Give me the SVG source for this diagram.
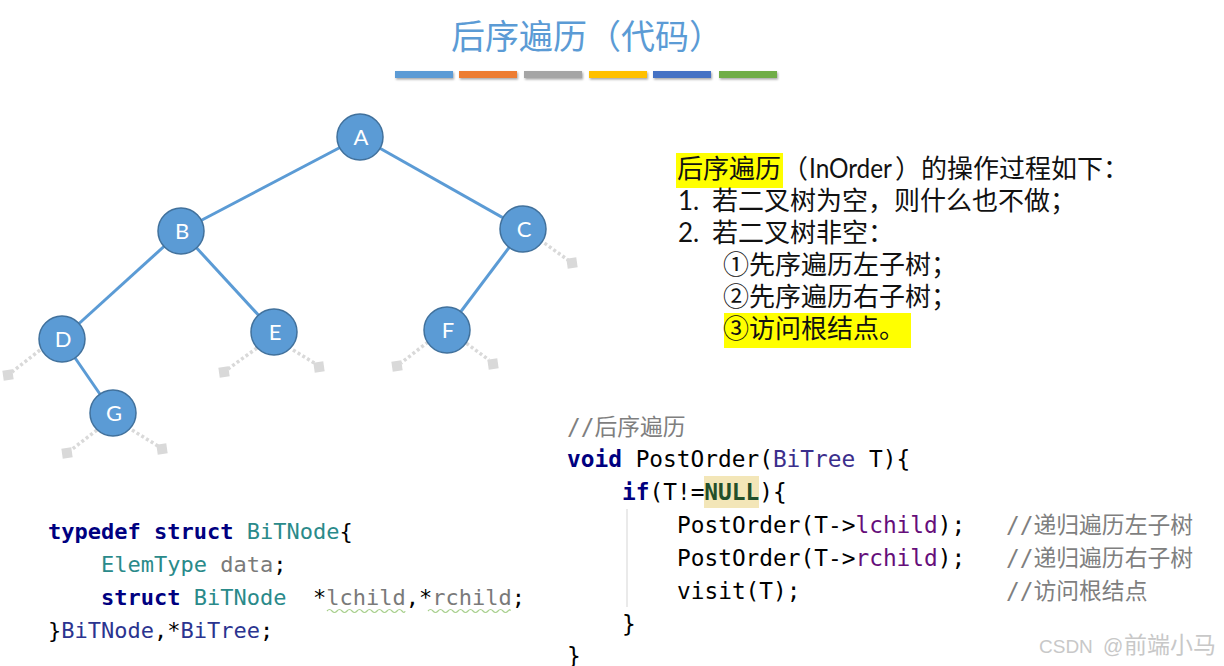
<svg xmlns="http://www.w3.org/2000/svg" width="1224" height="666" viewBox="0 0 1224 666">
<defs>
<style>
.title{font-family:"Noto Sans CJK SC","Noto Sans",sans-serif;font-size:34px;fill:#5B9BD5}
.node circle{fill:#5B9BD5;stroke:#41719C;stroke-width:1.5}
.node text{font-family:Lato,"Liberation Sans",sans-serif;font-size:22px;fill:#fff;text-anchor:middle}
.edge{stroke:#5B9BD5;stroke-width:3;fill:none}
.stub{stroke:#D9D9D9;stroke-width:3.5;stroke-dasharray:3 2.5;fill:none}
.sq{fill:#D9D9D9}
.cn{font-family:"Noto Sans CJK SC","Noto Sans",sans-serif;font-size:26px;fill:#111}
.lat{font-family:Lato,"Liberation Sans",sans-serif;font-size:26px;fill:#111}
.hl{fill:#FFFF00}
.code{font-family:"DejaVu Sans Mono","Noto Sans CJK SC",monospace;font-size:22.8px;fill:#000}
.code2{font-family:"DejaVu Sans Mono","Noto Sans CJK SC",monospace;font-size:22px;fill:#000}
.kw{fill:#000080;font-weight:bold}
.cm{fill:#7F7F7F}
.ty{fill:#2A8A8A}
.fd{fill:#660E7A}
.bt{fill:#3B2E8C}
.nu{fill:#234F2A;font-weight:bold}
.gr{fill:#7A7A7A}
.nv{fill:#2B3490}
</style>
<filter id="sh" x="-10%" y="-50%" width="120%" height="250%">
<feDropShadow dx="1" dy="1.5" stdDeviation="1" flood-color="#000" flood-opacity="0.35"/>
</filter>
</defs>
<rect width="1224" height="666" fill="#fff"/>

<g id="title">
<text class="title" x="451" y="49">后序遍历（代码）</text>
<g filter="url(#sh)">
<rect x="395" y="71" width="58" height="7" fill="#5B9BD5"/>
<rect x="459" y="71" width="58" height="7" fill="#ED7D31"/>
<rect x="524" y="71" width="58" height="7" fill="#A5A5A5"/>
<rect x="589" y="71" width="58" height="7" fill="#FFC000"/>
<rect x="653" y="71" width="58" height="7" fill="#4472C4"/>
<rect x="719" y="71" width="58" height="7" fill="#70AD47"/>
</g>
</g>

<g id="connectors">
<line class="edge" x1="360" y1="137" x2="181" y2="231"/>
<line class="edge" x1="360" y1="137" x2="523" y2="229"/>
<line class="edge" x1="181" y1="231" x2="62" y2="339"/>
<line class="edge" x1="181" y1="231" x2="274" y2="332"/>
<line class="edge" x1="523" y1="229" x2="447" y2="330"/>
<line class="edge" x1="62" y1="339" x2="113" y2="413"/>
<path class="stub" d="M540 240 L568 260"/>
<rect class="sq" x="567" y="258" width="10" height="10" transform="rotate(-8 572 263)"/>
<path class="stub" d="M40 350 L12 372"/>
<rect class="sq" x="3" y="370" width="10" height="10" transform="rotate(-8 8 375)"/>
<path class="stub" d="M257 348 L228 369"/>
<rect class="sq" x="219" y="367" width="10" height="10" transform="rotate(-8 224 372)"/>
<path class="stub" d="M293 350 L316 364"/>
<rect class="sq" x="314" y="362" width="10" height="10" transform="rotate(-8 319 367)"/>
<path class="stub" d="M428 342 L401 363"/>
<rect class="sq" x="392" y="361" width="10" height="10" transform="rotate(-8 397 366)"/>
<path class="stub" d="M462 340 L489 360"/>
<rect class="sq" x="488" y="359" width="10" height="10" transform="rotate(-8 493 364)"/>
<path class="stub" d="M97 430 L71 450"/>
<rect class="sq" x="62" y="448" width="10" height="10" transform="rotate(-8 67 453)"/>
<path class="stub" d="M132 430 L158 446"/>
<rect class="sq" x="157" y="444" width="10" height="10" transform="rotate(-8 162 449)"/>
</g>

<g id="node-A" class="node"><circle cx="360" cy="137" r="23"/><text x="361" y="145">A</text></g>
<g id="node-B" class="node"><circle cx="181" cy="231" r="23"/><text x="182" y="239">B</text></g>
<g id="node-C" class="node"><circle cx="523" cy="229" r="23"/><text x="524" y="237">C</text></g>
<g id="node-D" class="node"><circle cx="62" cy="339" r="23"/><text x="63" y="347">D</text></g>
<g id="node-E" class="node"><circle cx="274" cy="332" r="23"/><text x="275" y="340">E</text></g>
<g id="node-F" class="node"><circle cx="447" cy="330" r="23"/><text x="448" y="338">F</text></g>
<g id="node-G" class="node"><circle cx="113" cy="413" r="23"/><text x="114" y="421">G</text></g>

<g id="description">
<rect class="hl" x="676" y="153" width="107" height="35"/>
<rect class="hl" x="724" y="313" width="187" height="35"/>
<text class="cn" x="677" y="178">后序遍历</text>
<text class="cn" x="782" y="178">（</text>
<text class="lat" x="809" y="178" textLength="83" lengthAdjust="spacingAndGlyphs">InOrder</text>
<text class="cn" x="895" y="178">）</text>
<text class="cn" x="921" y="178">的操作过程如下：</text>
<text class="lat" x="678" y="210">1.</text>
<text class="cn" x="712" y="210">若二叉树为空，则什么也不做；</text>
<text class="lat" x="678" y="242">2.</text>
<text class="cn" x="712" y="242">若二叉树非空：</text>
<text class="cn" x="723" y="274">①先序遍历左子树；</text>
<text class="cn" x="723" y="306">②先序遍历右子树；</text>
<text class="cn" x="723" y="338">③访问根结点。</text>
</g>

<g id="code-struct">
<path d="M327 611 q2.5 -3 5 0 t5 0 t5 0 t5 0 t5 0 t5 0 t5 0 t5 0 t5 0 t5 0 t5 0 t5 0 t5 0 t5 0 t5 0 t3 0" stroke="#A8D08D" stroke-width="1.2" fill="none"/>
<path d="M428 611 q2.5 -3 5 0 t5 0 t5 0 t5 0 t5 0 t5 0 t5 0 t5 0 t5 0 t5 0 t5 0 t5 0 t5 0 t5 0 t5 0 t5 0 t2 0" stroke="#A8D08D" stroke-width="1.2" fill="none"/>
<text class="code2" x="48" y="539"><tspan class="kw">typedef struct</tspan> <tspan class="ty">BiTNode</tspan>{</text>
<text class="code2" y="572"><tspan x="101" class="ty">ElemType</tspan> <tspan class="gr">data</tspan>;</text>
<text class="code2" y="605"><tspan x="101" class="kw">struct</tspan> <tspan class="ty">BiTNode</tspan><tspan x="313">*</tspan><tspan class="gr">lchild</tspan>,*<tspan class="gr">rchild</tspan>;</text>
<text class="code2" x="48" y="638">}<tspan class="nv">BiTNode</tspan>,*<tspan class="nv">BiTree</tspan>;</text>
</g>

<g id="code-postorder">
<rect x="704" y="476" width="55" height="32" fill="#F3E6B8"/>
<line x1="627" y1="509" x2="627" y2="607" stroke="#E3E3E3" stroke-width="1.5"/>
<text class="code cm" x="567" y="435">//后序遍历</text>
<text class="code" x="567" y="467"><tspan class="kw">void</tspan> PostOrder(<tspan class="bt">BiTree</tspan> T){</text>
<text class="code" y="500"><tspan x="622" class="kw">if</tspan>(T!=<tspan class="nu">NULL</tspan>){</text>
<text class="code" y="533"><tspan x="677">PostOrder(T-&gt;</tspan><tspan class="fd">lchild</tspan>);<tspan x="1006" class="cm">//递归遍历左子树</tspan></text>
<text class="code" y="566"><tspan x="677">PostOrder(T-&gt;</tspan><tspan class="fd">rchild</tspan>);<tspan x="1006" class="cm">//递归遍历右子树</tspan></text>
<text class="code" y="599"><tspan x="677">visit(T);</tspan><tspan x="1006" class="cm">//访问根结点</tspan></text>
<text class="code" x="622" y="632">}</text>
<text class="code" x="567" y="664">}</text>
</g>

<g id="watermark" font-family="'Liberation Sans','Noto Sans CJK SC',sans-serif" fill="#C8C8C8">
<text x="1039" y="653" font-size="19">CSDN</text>
<text x="1103" y="653" font-size="20">@</text>
<text x="1124" y="653" font-size="23">前端小马</text>
</g>
</svg>
